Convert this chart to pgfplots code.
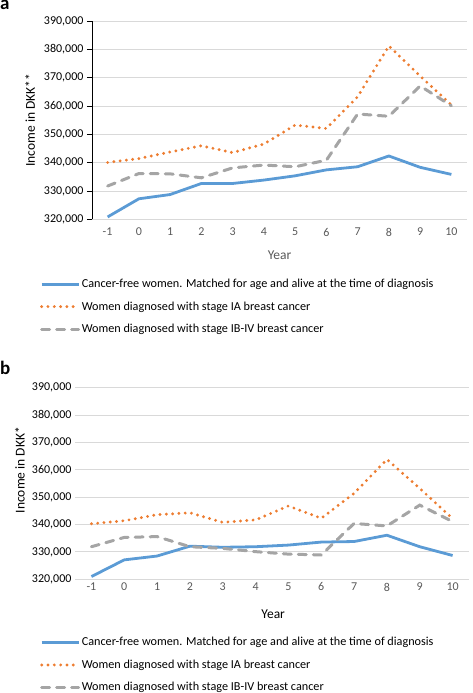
\documentclass[border=0pt]{standalone}
\usepackage{fontspec}
\setmainfont{Carlito}
\usepackage{pgfplots}
\pgfplotsset{compat=1.18}
\definecolor{cblue}{HTML}{5B9BD5}
\definecolor{corange}{HTML}{ED7D31}
\definecolor{cgray}{HTML}{A5A5A5}
\definecolor{cgrid}{HTML}{D9D9D9}
\definecolor{ctext}{HTML}{595959}
\begin{document}
\begin{tikzpicture}
\useasboundingbox (0pt,0pt) rectangle (472pt,693pt);
\pgfplotsset{
  common/.style={
    scale only axis,
    xmin=-1.5, xmax=10.5, ymin=320000, ymax=390000,
    ytick distance=10000, xtick={-1,0,...,10},
    scaled y ticks=false,
    yticklabel style={/pgf/number format/.cd, fixed, 1000 sep={,}, assume math mode=true},
    xticklabel style={/pgf/number format/assume math mode=true, text=ctext},
    tick label style={font=\fontsize{12}{13}\selectfont},
    label style={font=\fontsize{13.5}{14}\selectfont},
    ymajorgrids, grid style={cgrid, line width=0.9pt},
    axis x line*=bottom, axis y line*=left,
    x axis line style={draw=none},
    xtick style={draw=none},
    clip=false,
    legend cell align=left,
    legend style={draw=none, fill=none, font=\fontsize{12.2}{13}\selectfont, anchor=north west, row sep=9.5pt, inner sep=0pt,
      nodes={inner sep=1.5pt}},
    legend image code/.code={\draw[##1] (0pt,0pt) -- (37pt,0pt);},
  },
  sblue/.style={cblue, line width=2.8pt, line join=round},
  sorange/.style={corange, line width=3.2pt, dash pattern=on 0pt off 6.3pt, line cap=round},
  sgray/.style={cgray, line width=3pt, dash pattern=on 8pt off 7pt, line cap=round},
}
\begin{axis}[common,
  at={(92pt,473.5pt)}, anchor=south west, width=375pt, height=198.5pt,
  y axis line style={black, line width=0.7pt},
  ytick style={black, line width=0.7pt},
  tick align=outside, major tick length=5pt,
  xlabel={Year}, ylabel={Income in DKK**},
  xlabel style={at={(axis description cs:0.5,-0.179)}, anchor=center, text=ctext},
  ylabel style={at={(axis description cs:-0.165,0.5)}, anchor=center},
  legend style={at={(axis description cs:-0.139,-0.292)}},
]
\addplot[sblue] coordinates {(-1,320900) (0,327300) (1,328800) (2,332700) (3,332700) (4,333900) (5,335400) (6,337500) (7,338600) (8,342400) (9,338400) (10,335900)};
\addlegendentry{Cancer-free women. Matched for age and alive at the time of diagnosis}
\addplot[sorange] coordinates {(-1,340100) (0,341500) (1,343800) (2,346000) (3,343600) (4,346600) (5,353300) (6,352100) (7,363300) (8,381200) (9,370600) (10,360400)};
\addlegendentry{Women diagnosed with stage IA breast cancer}
\addplot[sgray] coordinates {(-1,331800) (0,336200) (1,336100) (2,334700) (3,338200) (4,339200) (5,338600) (6,340900) (7,357200) (8,356400) (9,367100) (10,360100)};
\addlegendentry{Women diagnosed with stage IB-IV breast cancer}
\end{axis}
\begin{axis}[common,
  at={(75pt,113.7pt)}, anchor=south west, width=394pt, height=191.6pt,
  y axis line style={draw=none},
  ytick style={draw=none},
  xlabel={Year}, ylabel={Income in DKK*},
  xlabel style={at={(axis description cs:0.503,-0.181)}, anchor=center},
  ylabel style={at={(axis description cs:-0.14,0.57)}, anchor=center},
  legend style={at={(axis description cs:-0.089,-0.295)}},
]
\addplot[sblue] coordinates {(-1,321000) (0,327100) (1,328500) (2,332100) (3,331700) (4,331900) (5,332500) (6,333600) (7,333800) (8,336100) (9,331900) (10,328700)};
\addlegendentry{Cancer-free women. Matched for age and alive at the time of diagnosis}
\addplot[sorange] coordinates {(-1,340300) (0,341400) (1,343600) (2,344300) (3,340800) (4,341700) (5,346800) (6,342300) (7,351400) (8,363800) (9,353200) (10,342200)};
\addlegendentry{Women diagnosed with stage IA breast cancer}
\addplot[sgray] coordinates {(-1,331900) (0,335300) (1,335600) (2,331900) (3,331300) (4,330100) (5,329200) (6,328900) (7,340400) (8,339500) (9,347100) (10,341100)};
\addlegendentry{Women diagnosed with stage IB-IV breast cancer}
\end{axis}
\node[anchor=base west, font=\bfseries\fontsize{19}{19}\selectfont, inner sep=0pt] at (0pt,683pt) {a};
\node[anchor=base west, font=\bfseries\fontsize{19}{19}\selectfont, inner sep=0pt] at (0pt,318pt) {b};
\end{tikzpicture}
\end{document}
